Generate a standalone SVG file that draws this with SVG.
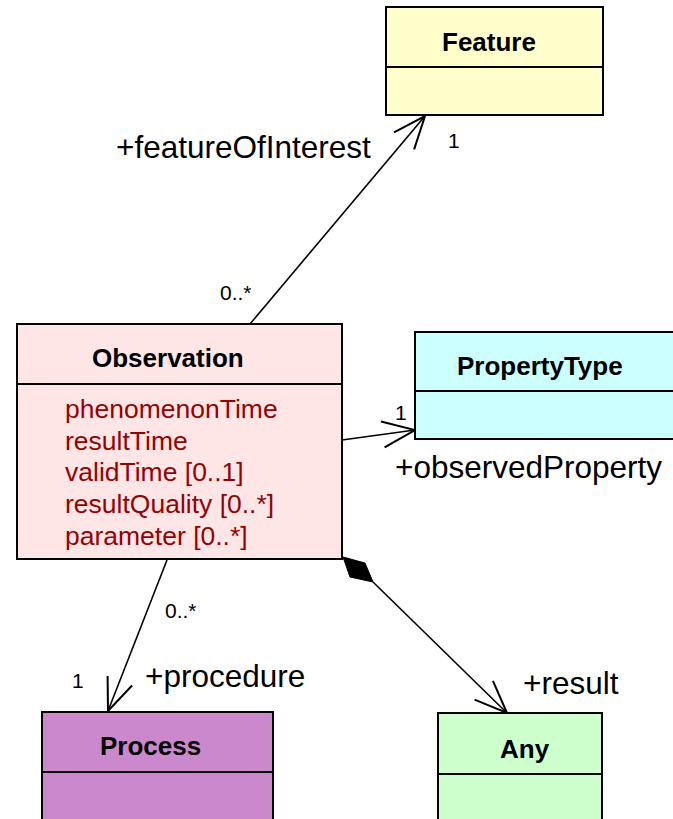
<svg xmlns="http://www.w3.org/2000/svg" width="673" height="819" viewBox="0 0 673 819">
<style>
.box{stroke:#000;stroke-width:2}
.div{stroke:#000;stroke-width:2}
.title{font-family:"Liberation Sans",Arial,sans-serif;font-weight:bold;font-size:26px;fill:#000}
.attr{font-family:"Liberation Sans",Arial,sans-serif;font-size:26.5px;fill:#990000}
.role{font-family:"Liberation Sans",Arial,sans-serif;font-size:31.5px;fill:#000}
.mult{font-family:"Liberation Sans",Arial,sans-serif;font-size:21px;fill:#000}
.conn{stroke:#000;stroke-width:1.6;fill:none}
</style>
<defs>
<marker id="open" markerUnits="userSpaceOnUse" markerWidth="40" markerHeight="40" viewBox="-30 -15 32 30" refX="0" refY="0" orient="auto" overflow="visible">
<path d="M-26,-10.5 L0,0 L-26,10.5" fill="none" stroke="#000" stroke-width="1.6"/>
</marker>
</defs>
<rect width="673" height="819" fill="#fff"/>
<g id="connectors">
<line class="conn" x1="250" y1="324" x2="425" y2="116" marker-end="url(#open)"/>
<line class="conn" x1="342" y1="440" x2="415" y2="430" marker-end="url(#open)"/>
<line class="conn" x1="167" y1="560" x2="108" y2="711" marker-end="url(#open)"/>
<polygon points="343,557 365,563 373,582 350,577" fill="#000" stroke="#000" stroke-width="1"/>
<line class="conn" x1="373" y1="582" x2="507" y2="713" marker-end="url(#open)"/>
<text class="role" x="116" y="158">+featureOfInterest</text>
<text class="mult" x="448" y="148">1</text>
<text class="mult" x="220" y="300">0..*</text>
<text class="mult" x="395" y="420">1</text>
<text class="role" x="395" y="478">+observedProperty</text>
<text class="mult" x="165" y="618">0..*</text>
<text class="mult" x="72" y="688">1</text>
<text class="role" x="145" y="687">+procedure</text>
<text class="role" x="523" y="694">+result</text>
</g>
<g id="Feature">
<rect class="box" x="386" y="7" width="217" height="108" fill="#FFFFCC"/>
<line class="div" x1="386" y1="67" x2="603" y2="67"/>
<text class="title" x="442" y="51">Feature</text>
</g>
<g id="Observation">
<rect class="box" x="17" y="324" width="325" height="235" fill="#FFE6E6"/>
<line class="div" x1="17" y1="384" x2="342" y2="384"/>
<text class="title" x="92" y="367">Observation</text>
<text class="attr" x="65" y="418">phenomenonTime</text>
<text class="attr" x="65" y="450">resultTime</text>
<text class="attr" x="65" y="481">validTime [0..1]</text>
<text class="attr" x="65" y="513">resultQuality [0..*]</text>
<text class="attr" x="65" y="545">parameter [0..*]</text>
</g>
<g id="PropertyType">
<rect class="box" x="415" y="332" width="280" height="107" fill="#CCFFFF"/>
<line class="div" x1="415" y1="391" x2="695" y2="391"/>
<text class="title" x="457" y="375">PropertyType</text>
</g>
<g id="Process">
<rect class="box" x="42" y="712" width="231" height="130" fill="#CC88CC"/>
<line class="div" x1="42" y1="772" x2="273" y2="772"/>
<text class="title" x="100" y="755">Process</text>
</g>
<g id="Any">
<rect class="box" x="438" y="713" width="164" height="130" fill="#CCFFCC"/>
<line class="div" x1="438" y1="774" x2="602" y2="774"/>
<text class="title" x="500" y="758">Any</text>
</g>
</svg>
